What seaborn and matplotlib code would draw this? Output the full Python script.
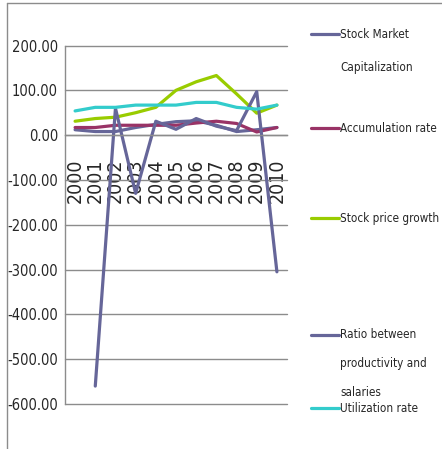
import numpy as np
import pandas as pd
import seaborn as sns
import matplotlib
matplotlib.use("Agg")
import matplotlib.pyplot as plt
from matplotlib.lines import Line2D

years = ["2000", "2001", "2002", "2003", "2004", "2005", "2006", "2007", "2008", "2009", "2010"]
stock_market_cap = [12, 8, 8, 17, 24, 30, 32, 22, 8, 12, 17]
accumulation_rate = [17, 17, 22, 22, 22, 22, 27, 31, 26, 7, 17]
stock_price_growth = [31, 37, 40, 50, 62, 100, 119, 133, 92, 49, 67]
ratio_prod_salaries = [np.nan, -560, 60, -130, 31, 13, 37, 20, 10, 97, -305]
utilization_rate = [54, 62, 62, 67, 67, 67, 73, 73, 62, 58, 67]

series_names = ["Stock Market Capitalization", "Accumulation rate", "Stock price growth",
                "Ratio between productivity and salaries", "Utilization rate"]
legend_labels = ["Stock Market\nCapitalization", "Accumulation rate", "Stock price growth",
                 "Ratio between\nproductivity and\nsalaries", "Utilization rate"]
colors = ["#666699", "#993366", "#99CC00", "#666699", "#33CCCC"]
values = [stock_market_cap, accumulation_rate, stock_price_growth, ratio_prod_salaries, utilization_rate]

rows = []
for name, vals in zip(series_names, values):
    for i, v in enumerate(vals):
        rows.append({"series": name, "idx": i, "value": v})
df = pd.DataFrame(rows)

sns.set_style("white")
plt.rcParams['font.family'] = ['DejaVu Sans']
plt.rcParams['font.stretch'] = 'condensed'

fig = plt.figure(figsize=(4.42, 4.49), dpi=100)
W, H = 442, 449
ax = fig.add_axes([65 / W, 1 - 404 / H, (287 - 65) / W, (404 - 45.5) / H])

for name, col in zip(series_names, colors):
    sub = df[df["series"] == name].dropna()
    sns.lineplot(data=sub, x="idx", y="value", ax=ax, color=col, linewidth=2.3,
                 legend=False, sort=False)

ax.set_xlim(-0.5, 10.5)
ax.set_ylim(-600, 200)
ax.set_yticks(np.arange(-600, 201, 100))
ax.set_yticklabels([f"{v:.2f}" for v in np.arange(-600, 201, 100)], fontsize=10.5,
                   fontstretch='condensed')
ax.yaxis.grid(True, color="#8c8c8c", linewidth=1)
for gl in ax.get_ygridlines():
    gl.set_clip_on(False)
ax.set_axisbelow(True)
ax.set_xlabel("")
ax.set_ylabel("")

for s in ["top", "right", "bottom"]:
    ax.spines[s].set_visible(False)
ax.spines["left"].set_color("#8c8c8c")
ax.spines["left"].set_linewidth(1)
ax.spines["bottom"].set_visible(True)
ax.spines["bottom"].set_position(("data", 0))
ax.spines["bottom"].set_color("#8c8c8c")
ax.spines["bottom"].set_linewidth(1)

ax.set_xticks(range(len(years)))
ax.set_xticklabels(years, rotation=90, fontsize=14, fontstretch='condensed')
ax.set_xticks(np.arange(-0.5, 10.6, 1), minor=True)
ax.tick_params(axis="x", which="major", length=0, pad=17)
ax.tick_params(axis="x", which="minor", length=6, direction="out", color="#8c8c8c")
ax.tick_params(axis="y", length=3, direction="out", color="#8c8c8c", pad=2)

# legend (manual placement to match reference layout)
handle_y = [34, 128, 218, 335, 408]
line_gaps = [34, 0, 0, 29, 0]
for lab, col, hy, gap in zip(legend_labels, colors, handle_y, line_gaps):
    fy = 1 - hy / H
    fig.add_artist(Line2D([311 / W, 339 / W], [fy, fy], color=col, linewidth=2.3,
                          transform=fig.transFigure))
    for k, part in enumerate(lab.split("\n")):
        fig.text(340 / W, 1 - (hy + k * gap) / H, part, fontsize=8.4,
                 fontstretch='condensed', va="center", ha="left")

# outer frame (top and left visible)
fig.add_artist(Line2D([7 / W, 1], [1 - 3 / H, 1 - 3 / H], color="#8c8c8c", linewidth=1,
                      transform=fig.transFigure))
fig.add_artist(Line2D([7 / W, 7 / W], [0, 1 - 3 / H], color="#8c8c8c", linewidth=1,
                      transform=fig.transFigure))

fig.savefig("out.png", dpi=100)
